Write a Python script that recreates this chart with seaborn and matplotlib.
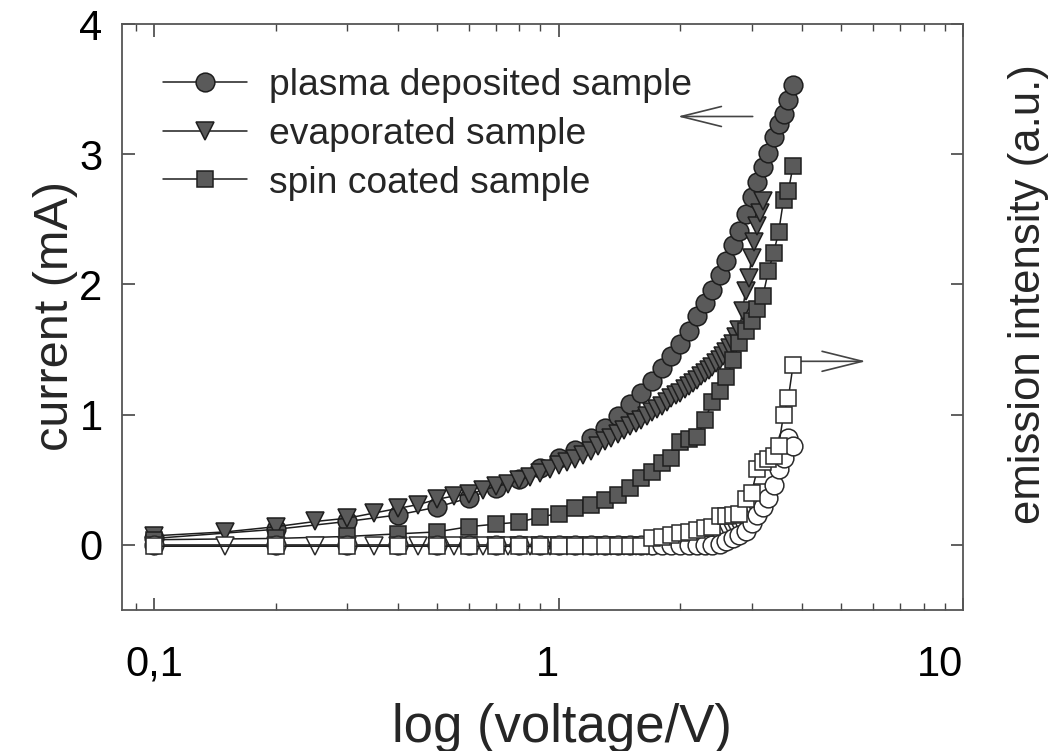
import numpy as np
import pandas as pd
import matplotlib
matplotlib.use("Agg")
import matplotlib.pyplot as plt
from matplotlib.ticker import FixedLocator, FixedFormatter, NullFormatter, LogLocator
import seaborn as sns

# ---------------- data ----------------
v_01 = [0.1, 0.2, 0.3, 0.4, 0.5, 0.6, 0.7, 0.8, 0.9, 1.0,
        1.1, 1.2, 1.3, 1.4, 1.5, 1.6, 1.7, 1.8, 1.9, 2.0,
        2.1, 2.2, 2.3, 2.4, 2.5, 2.6, 2.7, 2.8, 2.9, 3.0,
        3.1, 3.2, 3.3, 3.4, 3.5, 3.6, 3.7, 3.8]

v_005 = [0.10, 0.15, 0.20, 0.25, 0.30, 0.35, 0.40, 0.45, 0.50, 0.55,
         0.60, 0.65, 0.70, 0.75, 0.80, 0.85, 0.90, 0.95, 1.00, 1.05,
         1.10, 1.15, 1.20, 1.25, 1.30, 1.35, 1.40, 1.45, 1.50, 1.55,
         1.60, 1.65, 1.70, 1.75, 1.80, 1.85, 1.90, 1.95, 2.00, 2.05,
         2.10, 2.15, 2.20, 2.25, 2.30, 2.35, 2.40, 2.45, 2.50, 2.55,
         2.60, 2.65, 2.70, 2.75, 2.80, 2.85, 2.90, 2.95, 3.00, 3.05,
         3.10, 3.15, 3.20]

# current (mA)
plasma_current = [0.05, 0.12, 0.18, 0.23, 0.29, 0.36, 0.44, 0.51, 0.59, 0.67,
                  0.73, 0.82, 0.90, 0.99, 1.08, 1.17, 1.26, 1.36, 1.45, 1.54,
                  1.64, 1.76, 1.86, 1.96, 2.07, 2.18, 2.30, 2.41, 2.54, 2.67,
                  2.79, 2.90, 3.01, 3.13, 3.23, 3.31, 3.42, 3.53]

evap_current = [0.07, 0.10, 0.14, 0.18, 0.205, 0.245, 0.28, 0.31, 0.35, 0.375,
                0.39, 0.42, 0.45, 0.47, 0.50, 0.525, 0.55, 0.58, 0.61, 0.635,
                0.66, 0.69, 0.72, 0.76, 0.795, 0.82, 0.85, 0.88, 0.91, 0.94,
                0.96, 0.99, 1.02, 1.04, 1.07, 1.10, 1.125, 1.15, 1.17, 1.195,
                1.22, 1.245, 1.27, 1.295, 1.32, 1.345, 1.37, 1.395, 1.42, 1.45,
                1.48, 1.51, 1.545, 1.60, 1.65, 1.80, 1.95, 2.05, 2.20, 2.33,
                2.45, 2.55, 2.64]

spin_current = [0.04, 0.05, 0.065, 0.085, 0.10, 0.14, 0.16, 0.175, 0.215, 0.24,
                0.28, 0.31, 0.345, 0.385, 0.44, 0.515, 0.56, 0.63, 0.67, 0.79,
                0.815, 0.83, 0.96, 1.10, 1.18, 1.29, 1.42, 1.55, 1.64, 1.72,
                1.81, 1.91, 2.10, 2.24, 2.40, 2.65, 2.72, 2.91]

# emission intensity (a.u.)
plasma_emission = [0.0, 0.0, 0.0, 0.0, 0.0, 0.0, 0.0, 0.0, 0.0, 0.0,
                   0.0, 0.0, 0.0, 0.0, 0.0, 0.0, 0.0, 0.0, 0.0, 0.0,
                   0.0, 0.0, 0.0, 0.0, 0.01, 0.03, 0.05, 0.08, 0.11, 0.17,
                   0.23, 0.29, 0.36, 0.46, 0.58, 0.67, 0.82, 0.76]

evap_emission = [-0.01, -0.01, -0.01, -0.01, -0.01, -0.01, -0.01, -0.01, -0.01, -0.01,
                 -0.01, -0.01, -0.01, -0.01, -0.01, -0.01, -0.01, -0.01, -0.01, -0.01,
                 -0.01, -0.01, -0.01, -0.01, -0.01, -0.01, -0.01, -0.01, -0.01, -0.01,
                 -0.01, -0.01, -0.01, 0.0, 0.0, 0.005, 0.01, 0.015, 0.02, 0.025,
                 0.03, 0.035, 0.045, 0.055, 0.065, 0.075, 0.085, 0.095, 0.105, 0.115,
                 0.125, 0.14, 0.15, 0.165, 0.18, 0.20, 0.22, 0.24, 0.26, 0.29,
                 0.32, 0.36, 0.40]

spin_emission = [-0.01, -0.01, -0.01, -0.01, -0.01, -0.01, -0.01, -0.01, -0.01, -0.01,
                 -0.01, -0.01, -0.01, -0.01, -0.01, -0.01, 0.05, 0.064, 0.077, 0.09,
                 0.10, 0.115, 0.13, 0.14, 0.22, 0.225, 0.23, 0.24, 0.35, 0.40,
                 0.58, 0.64, 0.66, 0.68, 0.76, 1.00, 1.13, 1.38]

legend_labels = ["plasma deposited sample", "evaporated sample", "spin coated sample"]
x_tick_values = [0.1, 1, 10]
x_tick_labels = ["0,1", "1", "10"]
y_tick_values = [0, 1, 2, 3, 4]

# ---------------- style ----------------
sns.set_theme(style="ticks")
plt.rcParams["font.family"] = ["Liberation Sans", "DejaVu Sans"]

fig = plt.figure(figsize=(10.6, 7.51), dpi=100)
ax = fig.add_axes([0.1151, 0.1877, 0.7934, 0.7803])

fill_c = "#5a5a5a"
edge_c = "#1e1e1e"
line_c = "#1e1e1e"

ms_circle, ms_tri, ms_sq = 13.5, 12.5, 11.5

series = [
    (v_01, plasma_current, "o", ms_circle, legend_labels[0]),
    (v_005, evap_current, "v", ms_tri, legend_labels[1]),
    (v_01, spin_current, "s", ms_sq, legend_labels[2]),
]
handles = []
for xv, yv, mk, ms, lab in series:
    df = pd.DataFrame({"V": xv, "I": yv})
    sns.lineplot(data=df, x="V", y="I", ax=ax, sort=False, estimator=None,
                 color=line_c, lw=1.1, marker=mk, markersize=ms,
                 markerfacecolor=fill_c, markeredgecolor=edge_c, markeredgewidth=1.1,
                 legend=False, zorder=3)
    handles.append(ax.lines[-1])

open_series = [
    (v_005, evap_emission, "v", ms_tri),
    (v_01, plasma_emission, "o", ms_circle),
    (v_01, spin_emission, "s", ms_sq),
]
for xv, yv, mk, ms in open_series:
    df = pd.DataFrame({"V": xv, "E": yv})
    sns.lineplot(data=df, x="V", y="E", ax=ax, sort=False, estimator=None,
                 color=line_c, lw=1.1, marker=mk, markersize=ms,
                 markerfacecolor="white", markeredgecolor="#2a2a2a",
                 markeredgewidth=1.1, legend=False, zorder=4)

# ---------------- axes ----------------
ax.set_xscale("log")
ax.set_xlim(0.0833, 10)
ax.set_ylim(-0.5, 4)
ax.xaxis.set_major_locator(FixedLocator(x_tick_values))
ax.xaxis.set_major_formatter(FixedFormatter(x_tick_labels))
ax.xaxis.set_minor_locator(LogLocator(base=10, subs=np.arange(2, 10)))
ax.xaxis.set_minor_formatter(NullFormatter())
ax.set_yticks(y_tick_values)
ax.set_yticklabels([str(t) for t in y_tick_values])

ax.tick_params(axis="both", which="major", direction="in", length=9, width=1.2,
               color="#444444", labelsize=30, top=True, right=True,
               labelcolor="black")
ax.tick_params(axis="x", which="major", pad=25)
ax.tick_params(axis="y", which="major", pad=14)
ax.tick_params(axis="x", which="minor", direction="in", length=5, width=1.0,
               color="#444444", top=True)
for sp in ax.spines.values():
    sp.set_color("#555555")
    sp.set_linewidth(1.3)

# the reference places "1" and "10" slightly left of their ticks
fig.canvas.draw()
xt_labels = ax.get_xticklabels()
for lab in xt_labels[1:]:
    lab.set_ha("right")

ax.set_xlabel("log (voltage/V)", fontsize=38)
ax.xaxis.set_label_coords(0.523, -0.158)
ax.set_ylabel("current (mA)", fontsize=35)
ax.yaxis.set_label_coords(-0.052, 0.502)
fig.text(0.970, 0.6085, "emission intensity (a.u.)", rotation=90,
         fontsize=31.5, ha="center", va="center")

leg = ax.legend(handles, legend_labels, loc="upper left",
                bbox_to_anchor=(0.049, 0.925), frameon=False, fontsize=26.8,
                handlelength=2.25, handletextpad=0.6, labelspacing=0.37,
                borderaxespad=0, borderpad=0)

# arrows indicating which axis each group belongs to
ax.annotate("", xy=(1.97, 3.29), xytext=(3.02, 3.29),
            arrowprops=dict(arrowstyle="->,head_length=1.45,head_width=0.36",
                            color="#444444", lw=1.2, mutation_scale=20,
                            shrinkA=0, shrinkB=0))
ax.annotate("", xy=(5.75, 1.41), xytext=(3.84, 1.41),
            arrowprops=dict(arrowstyle="->,head_length=1.45,head_width=0.36",
                            color="#444444", lw=1.2, mutation_scale=20,
                            shrinkA=0, shrinkB=0))

fig.savefig("out.png", dpi=100, facecolor="white")
